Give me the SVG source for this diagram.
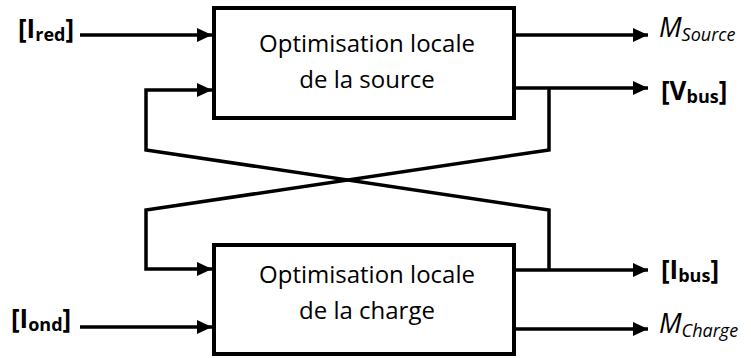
<svg xmlns="http://www.w3.org/2000/svg" width="751" height="358" viewBox="0 0 751 358">
<style>
.box{fill:#fff;stroke:#000;stroke-width:4}
.ln{fill:none;stroke:#000;stroke-width:3.5;stroke-linejoin:miter}
.t{font-family:"Open Sans","Liberation Sans",sans-serif;font-size:24px;fill:#000;text-anchor:middle}
.b{font-family:"Open Sans","Liberation Sans",sans-serif;font-weight:bold;font-size:26px;fill:#000}
.i{font-family:"Open Sans","Liberation Sans",sans-serif;font-style:italic;font-size:27px;fill:#000}
.s{font-size:18px}
</style>
<defs>
<marker id="ah" viewBox="0 0 15 14" refX="15" refY="7" markerWidth="15" markerHeight="14" markerUnits="userSpaceOnUse" orient="auto">
<path d="M0,0 L15,7 L0,14 Z" fill="#000"/>
</marker>
</defs>
<g id="connectors">
<path class="ln" d="M80,35 H212" marker-end="url(#ah)"/>
<path class="ln" d="M513,35 H648" marker-end="url(#ah)"/>
<path class="ln" d="M513,88 H648" marker-end="url(#ah)"/>
<path class="ln" d="M549,88 V150 L146,210 V269 H212" marker-end="url(#ah)"/>
<path class="ln" d="M549,270 V210 L146,150 V90 H212" marker-end="url(#ah)"/>
<path class="ln" d="M513,270 H648" marker-end="url(#ah)"/>
<path class="ln" d="M80,327 H212" marker-end="url(#ah)"/>
<path class="ln" d="M513,329 H648" marker-end="url(#ah)"/>
</g>
<g id="source">
<rect class="box" x="214" y="8" width="300" height="110"/>
<text class="t" x="367" y="52">Optimisation locale</text>
<text class="t" x="367" y="88">de la source</text>
</g>
<g id="charge">
<rect class="box" x="214" y="245" width="300" height="109"/>
<text class="t" x="367" y="283">Optimisation locale</text>
<text class="t" x="367" y="319">de la charge</text>
</g>
<g id="labels">
<text class="b" x="18" y="38">[I<tspan class="s" dy="3">red</tspan><tspan dy="-3">]</tspan></text>
<text class="b" x="11" y="328">[I<tspan class="s" dy="3">ond</tspan><tspan dy="-3">]</tspan></text>
<text class="i" x="659" y="37">M<tspan class="s" dy="4">Source</tspan></text>
<text class="b" x="661" y="100">[V<tspan class="s" dy="3">bus</tspan><tspan dy="-3">]</tspan></text>
<text class="b" x="661" y="279">[I<tspan class="s" dy="3">bus</tspan><tspan dy="-3">]</tspan></text>
<text class="i" x="659" y="333">M<tspan class="s" dy="4">Charge</tspan></text>
</g>
</svg>
